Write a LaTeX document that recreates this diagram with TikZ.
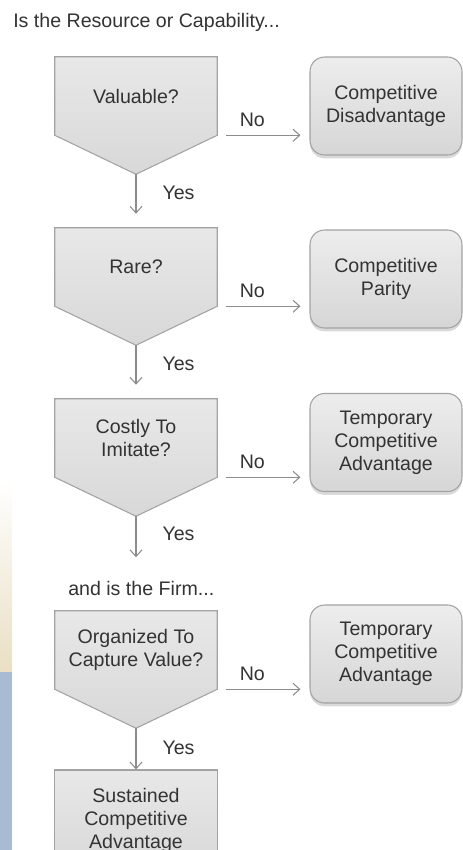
\documentclass[tikz,border=0pt]{standalone}
\usepackage{fontspec}
\setmainfont{Liberation Sans}
\usetikzlibrary{arrows.meta,calc,shadows,backgrounds}
\definecolor{txt}{HTML}{333333}
\definecolor{edgec}{HTML}{A3A3A3}
\definecolor{connc}{HTML}{8C8C8C}
\definecolor{qtop}{HTML}{E8E8E8}
\definecolor{qbot}{HTML}{D8D8D8}
\definecolor{otop}{HTML}{EDEDED}
\definecolor{obot}{HTML}{D6D6D6}
\definecolor{slideblue}{HTML}{A9BAD4}
\definecolor{slidesand}{HTML}{EADFC4}

\begin{document}
\begin{tikzpicture}[x=0.75pt,y=0.75pt,
  every node/.style={text=txt,font=\fontsize{14.7}{17.25}\selectfont},
  lbl/.style={inner sep=0pt},
  question/.style={minimum width=121.5pt,minimum height=58.5pt,inner sep=0pt,align=center},
  qshape/.style={draw=edgec,line width=0.8pt,top color=qtop,bottom color=qbot},
  outcome/.style={draw=edgec,line width=0.8pt,rounded corners=11pt,minimum width=114pt,minimum height=73.5pt,
    inner sep=0pt,align=center,top color=otop,bottom color=obot,
    drop shadow={shadow xshift=0pt,shadow yshift=-2.5pt,opacity=0.3}},
  final/.style={draw=edgec,line width=0.8pt,minimum width=122pt,minimum height=75pt,inner sep=0pt,
    align=center,top color=qtop,bottom color=qbot},
  conn/.style={draw=connc,line width=0.8pt,-{Straight Barb[length=5pt,width=9pt]}},
  nolink/.style={conn,shorten <=6.75pt,shorten >=6.75pt}]
\useasboundingbox (0,0) rectangle (463,-850);
\clip (0,0) rectangle (463,-850);
\shade[top color=white,bottom color=slidesand] (0,-480) rectangle (12,-672);
\fill[slideblue] (0,-672) rectangle (12,-850);

\node[lbl,anchor=base west] (head1) at (13,-27) {Is the Resource or Capability...};
\node[question] (q1) at (136,-96) {Valuable?};
\node[question] (q2) at (136,-267) {Rare?};
\node[question] (q3) at (136,-438) {Costly To\\Imitate?};
\node[lbl,anchor=base west] (head2) at (68,-595) {and is the Firm...};
\node[question] (q4) at (136,-650) {Organized To\\Capture Value?};
\node[final] (s) at (136,-820) {Sustained\\Competitive\\Advantage};

\node[outcome] (a1) at (386,-106) {Competitive\\Disadvantage};
\node[outcome] (a2) at (386,-279) {Competitive\\Parity};
\node[outcome] (a3) at (386,-442.5) {Temporary\\Competitive\\Advantage};
\node[outcome] (a4) at (386,-654) {Temporary\\Competitive\\Advantage};

\coordinate (t1) at ($(q1.south)+(0,-39)$);
\coordinate (t2) at ($(q2.south)+(0,-39)$);
\coordinate (t3) at ($(q3.south)+(0,-39)$);
\coordinate (t4) at ($(q4.south)+(0,-39)$);
\coordinate (e3) at ($(t3)+(0,-41)$);

\begin{scope}[on background layer]
\draw[qshape] (q1.north west) -- (q1.north east) -- (q1.south east) -- (t1) -- (q1.south west) -- cycle;
\draw[qshape] (q2.north west) -- (q2.north east) -- (q2.south east) -- (t2) -- (q2.south west) -- cycle;
\draw[qshape] (q3.north west) -- (q3.north east) -- (q3.south east) -- (t3) -- (q3.south west) -- cycle;
\draw[qshape] (q4.north west) -- (q4.north east) -- (q4.south east) -- (t4) -- (q4.south west) -- cycle;
\end{scope}

\draw[nolink] (q1.south east) -- node[lbl,pos=0.38,yshift=11.25pt] (no1) {No} (q1.south east -| a1.west);
\draw[nolink] (q2.south east) -- node[lbl,pos=0.38,yshift=11.25pt] (no2) {No} (q2.south east -| a2.west);
\draw[nolink] (q3.south east) -- node[lbl,pos=0.38,yshift=11.25pt] (no3) {No} (q3.south east -| a3.west);
\draw[nolink] (q4.south east) -- node[lbl,pos=0.38,yshift=11.25pt] (no4) {No} (q4.south east -| a4.west);

\draw[conn,shorten >=10.5pt] (t1) -- node[lbl,pos=0.35,anchor=west,xshift=19.5pt] (yes1) {Yes} (q2.north);
\draw[conn,shorten >=10.5pt] (t2) -- node[lbl,pos=0.35,anchor=west,xshift=19.5pt] (yes2) {Yes} (q3.north);
\draw[conn] (t3) -- node[lbl,pos=0.42,anchor=west,xshift=19.5pt] (yes3) {Yes} (e3);
\draw[conn] (t4) -- node[lbl,pos=0.48,anchor=west,xshift=19.5pt] (yes4) {Yes} (s.north);
\end{tikzpicture}
\end{document}
